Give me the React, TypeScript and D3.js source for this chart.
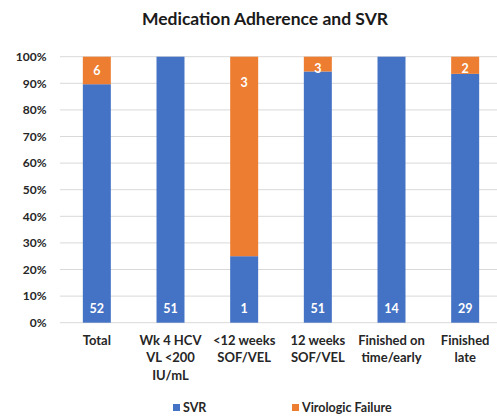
import React from "react";
import * as d3 from "d3";

const categories: string[][] = [
  ["Total"],
  ["Wk 4 HCV", "VL <200", "IU/mL"],
  ["<12 weeks", "SOF/VEL"],
  ["12 weeks", "SOF/VEL"],
  ["Finished on", "time/early"],
  ["Finished", "late"],
];
const svrCounts = [52, 51, 1, 51, 14, 29];
const failCounts = [6, 0, 3, 3, 0, 2];
const yTicks = [0, 0.1, 0.2, 0.3, 0.4, 0.5, 0.6, 0.7, 0.8, 0.9, 1.0];
const seriesNames = ["SVR", "Virologic Failure"];
const colors = ["#4472C4", "#ED7D31"];

const W = 497;
const H = 416;
const FONT = "Lato, 'Open Sans', sans-serif";

export default function App() {
  const keys = categories.map((_, i) => String(i));
  const x = d3.scaleBand<string>().domain(keys).range([60, 502]).paddingInner(0.62).paddingOuter(0.31);
  const y = d3.scaleLinear().domain([0, 1]).range([322.7, 56.7]);

  const rows = keys.map((k, i) => {
    const total = svrCounts[i] + failCounts[i];
    return { key: k, svr: svrCounts[i] / total, fail: failCounts[i] / total };
  });
  const stack = d3.stack<any>().keys(["svr", "fail"]);
  const series = stack(rows as any);

  return (
    <div style={{ position: "absolute", left: 0, top: 0 }}>
      <svg width={W} height={H} style={{ display: "block", background: "#fff" }} fontFamily={FONT}>
        <text x={265} y={25} textAnchor="middle" fontSize={17.5} fontWeight={700} fill="#1a1a1a">
          Medication Adherence and SVR
        </text>
        {yTicks.map((t) => (
          <g key={t}>
            <line x1={60} x2={W} y1={y(t)} y2={y(t)} stroke="#d9d9d9" strokeWidth={1} />
            <text x={46.5} y={y(t)} dy="0.35em" textAnchor="end" fontSize={12} fontWeight={700} fill="#262626">
              {d3.format(".0%")(t)}
            </text>
          </g>
        ))}
        {series.map((s, si) => (
          <g key={si} fill={colors[si]}>
            {s.map((d: any, i: number) => (
              <rect
                key={i}
                x={x(keys[i])!}
                width={x.bandwidth()}
                y={y(d[1])}
                height={Math.max(0, y(d[0]) - y(d[1]))}
              />
            ))}
          </g>
        ))}
        {keys.map((k, i) => {
          const cx = x(k)! + x.bandwidth() / 2;
          const top = y(1);
          const h = y(rows[i].svr) - y(1);
          const failY = top + Math.min(Math.max(h / 2, 12), 26);
          return (
            <g key={k} fontSize={12.5} fontWeight={700} fill="#fff" textAnchor="middle">
              <text x={cx} y={y(0) - 14} dy="0.35em">{svrCounts[i]}</text>
              {failCounts[i] > 0 && (
                <text x={cx} y={failY} dy="0.35em">{failCounts[i]}</text>
              )}
            </g>
          );
        })}
        {categories.map((lines, i) => (
          <text key={i} x={x(keys[i])! + x.bandwidth() / 2} textAnchor="middle" fontSize={13} fontWeight={700} fill="#262626">
            {lines.map((l, j) => (
              <tspan key={j} x={x(keys[i])! + x.bandwidth() / 2} y={340 + j * 17.6} dy="0.35em">{l}</tspan>
            ))}
          </text>
        ))}
        {seriesNames.map((n, i) => {
          const lx = [173, 292][i];
          return (
            <g key={n}>
              <rect x={lx} y={404} width={7} height={7} fill={colors[i]} />
              <text x={lx + 10} y={407.5} dy="0.35em" fontSize={12.5} fontWeight={700} fill="#262626">{n}</text>
            </g>
          );
        })}
      </svg>
    </div>
  );
}
